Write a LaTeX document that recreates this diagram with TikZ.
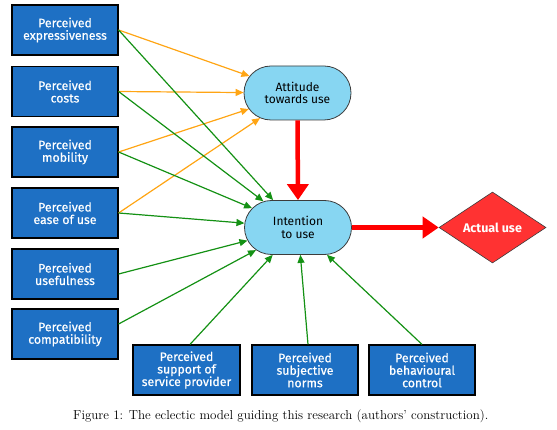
\documentclass[tikz,border=0pt]{standalone}
\usepackage{fontspec}
\newfontfamily\boxfont{Fira Sans}
\newfontfamily\boxfontw[FakeBold=0.6]{Fira Sans}
\usetikzlibrary{shapes.geometric,shapes.misc,arrows.meta}
\definecolor{boxblue}{RGB}{30,112,196}
\definecolor{ovalblue}{RGB}{135,214,242}
\definecolor{ovalborder}{RGB}{60,60,60}
\definecolor{arrgreen}{RGB}{20,145,20}
\definecolor{arrorange}{RGB}{255,165,20}
\definecolor{arrred}{RGB}{255,0,0}
\definecolor{actred}{RGB}{255,50,50}
\begin{document}
\begin{tikzpicture}[x=1pt,y=-1pt,
  fbox/.style={draw=black, line width=1.2pt, fill=boxblue, text=white,
    font=\boxfontw\fontsize{12.3}{12.5}\selectfont, align=center,
    minimum width=106pt, minimum height=50pt, inner sep=0pt},
  ovalnode/.style={rounded rectangle, draw=ovalborder, line width=0.8pt, fill=ovalblue,
    text=black, font=\boxfont\fontsize{12}{12.5}\selectfont, align=center,
    minimum width=107pt, minimum height=54pt, inner sep=0pt},
  actnode/.style={diamond, aspect=1.5, draw=ovalborder, line width=0.6pt, fill=actred,
    text=white, font=\boxfont\bfseries\fontsize{12.5}{14}\selectfont,
    minimum width=107pt, minimum height=71pt, inner sep=0pt},
  garrow/.style={draw=arrgreen, line width=1.2pt, -{Triangle[length=8pt,width=7pt]}},
  oarrow/.style={draw=arrorange, line width=1.2pt, -{Triangle[length=8pt,width=7pt]}},
  rarrow/.style={draw=arrred, line width=4.5pt, -{Triangle[length=16pt,width=21pt]}}
]
\useasboundingbox (0,0) rectangle (557,430);

% left boxes
\node[fbox] (b1) at (65,30) {Perceived\\expressiveness};
\node[fbox] (b2) at (65,91.5) {Perceived\\costs};
\node[fbox] (b3) at (65,152) {Perceived\\mobility};
\node[fbox] (b4) at (65,213) {Perceived\\ease of use};
\node[fbox] (b5) at (65,274) {Perceived\\usefulness};
\node[fbox] (b6) at (65,334) {Perceived\\compatibility};

% bottom boxes
\node[fbox, minimum width=107pt] (s1) at (186.5,370) {Perceived\\support of\\service provider};
\node[fbox] (s2) at (305,370) {Perceived\\subjective\\norms};
\node[fbox] (s3) at (422,370) {Perceived\\behavioural\\control};

% central nodes
\node[ovalnode] (att) at (297.5,93) {Attitude\\towards use};
\node[ovalnode] (int) at (298,227.5) {Intention\\to use};
\node[actnode] (act) at (492.5,227.5) {Actual use};

% orange arrows to attitude
\draw[oarrow] (b1.east) -- (att);
\draw[oarrow] (b2.east) -- (att);
\draw[oarrow] (b3.east) -- (att);
\draw[oarrow] (b4.east) -- (att);

% green arrows to intention
\draw[garrow] (b1.east) -- (int);
\draw[garrow] (b2.east) -- (int);
\draw[garrow] (b3.east) -- (int);
\draw[garrow] (b4.east) -- (int);
\draw[garrow] (b5.east) -- (int);
\draw[garrow] ([yshift=10pt]b6.east) -- (int);
\draw[garrow] ([xshift=3.5pt]s1.north) -- (int);
\draw[garrow] ([xshift=3pt]s2.north) -- (int);
\draw[garrow] (s3.north) -- (int);

% red arrows
\draw[rarrow] (att.south) -- (int.north);
\draw[rarrow] (int.east) -- (act.west);

% caption
\node[font=\fontsize{13}{15}\selectfont, anchor=base west, inner sep=0pt] (cap) at (73,419)
  {Figure 1: The eclectic model guiding this research (authors’ construction).};
\end{tikzpicture}
\end{document}
